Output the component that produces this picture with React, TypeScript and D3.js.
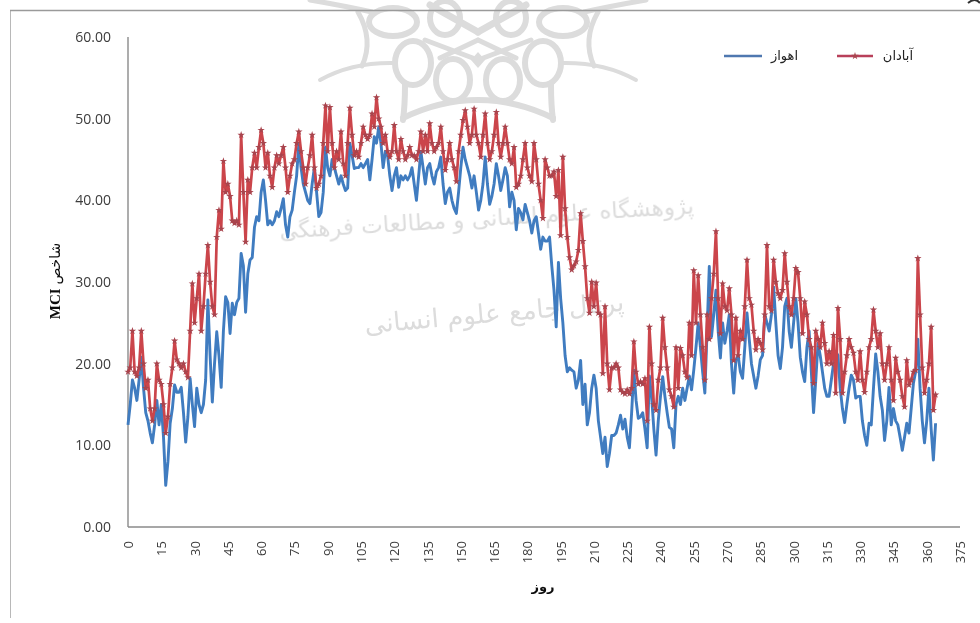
import React from 'react';
import * as d3 from 'd3';

const abadan = [
19,19.5,24,19,18.5,19.5,24,20,17,18,
14.5,13,14.5,20,18,17.5,15,11.5,13.5,17.5,
19.5,22.8,20.5,20,19.5,20,19,18.3,24,29.8,
25,28,31,24,27,31,34.5,30,27,26,
35.5,38.8,36.5,44.8,41,42,40.5,37.5,37.2,37.5,
37,48,41,34.9,42.5,41,44,45.8,44,46.5,
48.6,47,44,45.8,43,41.6,44,45.5,44.5,45.5,
46.5,44,41,43,44.5,45,47,48.4,46,44,
42,44,45.5,48,44,41.5,42,43,47,51.6,
46,51.4,47,44,46,45,48.4,44.5,43,47,
51.3,48,45.5,46,45.3,47,49,48,47.5,48,
50.6,49,52.6,50,49,47,48,46,45.3,46,
49.2,46,45,47.5,46,45,45.5,46.5,45.5,45.5,
45,46,48.4,46,48,46,49.4,47,46,46.5,
47,49,46,43.7,45,47,45,44,42.3,46,
48,49.8,51,49,47,48,51.2,48,47,45.3,
48,50.6,47,45,46,48,50.8,47,45.3,47,
49,47,45,44.5,46.5,41.6,42,43,45,47,
44,43,42.3,47,45,42,40,37.8,45,44,
43,43,43.5,40.5,43.7,35.7,45.3,39,35.5,33,
31.5,32,32.5,33.9,38.4,35,31.9,28,26.2,30,
27,29.9,26.2,26,18.8,27,20,16.8,19.5,19.5,
20,19.5,16.8,16.5,16.3,16.8,16.3,17,22.7,19,
17.5,17.8,17.5,18.2,13,24.5,20,15,14.3,18,
19.5,25.6,22,19.5,16.8,16,14.7,22,17,21.9,
21,19,18.3,25,21,31.4,25,30.8,26,22,
18,26,23,28,31,36.2,28,23.7,29.8,27,
26.5,29.2,26,20.4,25.6,21,24,23,27,32.7,
28,27.2,24,21.7,23,22.5,21.7,26,34.5,27,
26.5,32.7,30,28.6,28,29,33.5,30,27,26,
28,31.7,31.2,28,23.7,27.6,26,23,22,17.6,
24,23,22,25,22.5,20,21.5,20,23.5,16.4,
26.8,23,16.4,19,21,23,22,21.3,19,18,
21.5,18,16.5,19,22,23,26.6,24,22,23.7,
20,18,20,22,18,15.5,20.7,19,18,16,
14.7,20.4,17.4,18,19,19.2,32.9,26,19.5,16.4,
18,20,24.5,14.3,16.2,
];

const ahvaz = [
12.5,15,18,17,15.5,18,20.8,17,14,13,
11.5,10.3,12.5,15.5,12.5,15,11,5.1,8,12.7,
14.5,17.4,16.5,16.5,17.1,14,10.4,13.5,18.2,15,
12.3,17,15,14,15,18,27.8,21,15.3,20,
23.9,21,17.1,24,28.2,27.5,23.7,27.4,26,27.5,
28,33.5,32,26.3,31,32.7,33,36.7,38,37.5,
41,42.5,40,37,37.5,37,37.5,38.6,38,39,
40.2,37,35.5,38,38.8,41,43,47,44,42,
41,40,39.6,42,44,41,38,38.5,41,46.5,
44,43,45,44,43,42,43,42,41.2,41.5,
47,45.5,43.9,44,44,44.5,44,44.5,45,42.5,
45,47.8,47,49,47,44,46,45.5,43,41.2,
43,44,41.6,43,42.5,43,42.5,43,44,42,
40,43,46,44,42,44,44.5,43,42,43.5,
44,45.3,42,39.6,41,41.5,40,39,38.4,41,
44,46.5,45,44,43,41.5,43,41,38.8,40,
42,45.3,42,39.5,40.5,42,44.5,43,41.2,42.5,
44,43,39.2,41,40,36.4,39,38.5,37.6,39.5,
38.5,37.5,36,37.5,38,36,34,35.5,35,35,
35.5,32,29,24.5,32.4,28,25,21,19,19.5,
19.2,19,17,18,20.4,15,17.5,12.5,14,17,
18.6,17,13,11,9,11,7.4,9,11.2,11.2,
11.5,12.5,13.7,12,13.2,11,9.7,14,19.2,15.5,
13.3,13.5,14,12,9.7,18.5,16,12,8.8,13,
16,18.4,16,14,12.2,12,9.7,15,16,15,
17,15.5,17,18.5,16.8,19.2,22,25,22,19,
16.4,24,31.9,23.3,26,29,24,20.7,25,22.5,
24,26,20,16.4,20.5,21,19,18.2,22,26.2,
23,20,18.5,17,18.5,20.5,21,26,25,24,
26,29.4,25,21,19.4,22,27,28,24,22,
25,28,25,20.8,19,17.8,22,24,19,14,
18,22.5,21,19,17,16,16,18,20,21.5,
21,17,14.5,12.8,15,17,18.6,18,15.8,16,
16,13,11.2,10,12.7,12.5,17,21.2,19,16,
14.3,10.6,13,17.1,12.5,14.5,13,12.5,11,9.4,
11,12.7,11.5,14.5,17.6,19,23,17,13,10.3,
13,17,12,8.2,12.7,
];

const yTicks = [0, 10, 20, 30, 40, 50, 60];
const xTicks = d3.range(0, 376, 15);
const legendA = 'آبادان';
const legendB = 'اهواز';
const xTitle = 'روز';
const yTitleFa = 'شاخص';
const yTitleEn = 'MCI';
const wmLine1 = 'پژوهشگاه علوم انسانی و مطالعات فرهنگی';
const wmLine2 = 'پرتال جامع علوم انسانی';

const x = d3.scaleLinear().domain([0, 375]).range([128, 960]);
const y = d3.scaleLinear().domain([0, 60]).range([527, 37]);
const line = d3.line<number>().x((_, i) => x(i)).y(d => y(d));
const star = d3.symbol(d3.symbolStar, 17)() as string;

const RED = '#cb454b';
const REDM = '#a8444e';
const BLUE = '#3f7cc0';
const WM = '#dcdcdc';
const TXT = '#3c3c3c';

function LogoHalf() {
  return (
    <g fill="none" stroke={WM} strokeWidth={6} strokeLinecap="round">
      <ellipse cx={453} cy={80} rx={17} ry={21} />
      <ellipse cx={413} cy={63} rx={18} ry={22} />
      <ellipse cx={393} cy={22} rx={24} ry={14} />
      <ellipse cx={445} cy={18} rx={15} ry={17} />
      <path d="M320,80 Q352,62 395,63" strokeWidth={4} />
      <path d="M358,12 Q374,40 362,66" strokeWidth={5} />
      <path d="M405,85 Q405,105 403,120" />
      <path d="M403,118 Q440,100 478,100" />
      <path d="M425,40 L478,60 M440,58 L478,40" strokeWidth={5} />
      <path d="M430,5 L478,32" strokeWidth={7} />
      <path d="M310,0 Q345,6 372,12" strokeWidth={5} />
    </g>
  );
}

export default function App() {
  return (
    <svg width={980} height={623} style={{ position: 'absolute', left: 0, top: 0, background: '#fff' }}>
      <defs>
        <filter id="soft" x="0" y="0" width="100%" height="100%">
          <feGaussianBlur stdDeviation="0.55" />
        </filter>
      </defs>
      <g filter="url(#soft)">
        <LogoHalf />
        <g transform="translate(956,0) scale(-1,1)"><LogoHalf /></g>
        <path d="M478,52 L485,60 L478,68 L471,60 Z" fill={WM} />
        <path d="M968,3 Q975,-3 980,3" fill="none" stroke="#333" strokeWidth={2} />

        <text x={487} y={226} textAnchor="middle" transform="rotate(-3.5 487 226)"
          fontFamily="'DejaVu Sans'" fontSize={23} fill={WM} direction="rtl">{wmLine1}</text>
        <text x={495} y={322} textAnchor="middle" transform="rotate(-5 495 322)"
          fontFamily="'DejaVu Sans'" fontSize={26} fill={WM} direction="rtl">{wmLine2}</text>

        <path d="M980,10.5 H10 V618" fill="none" stroke="#9a9a9a" strokeWidth={1.4} />

        <line x1={x(0)} x2={x(0)} y1={y(60)} y2={y(0)} stroke="#8a8a8a" strokeWidth={1.4} />
        <line x1={x(0)} x2={x(375)} y1={y(0)} y2={y(0)} stroke="#8a8a8a" strokeWidth={1.4} />

        {yTicks.map(t => (
          <text key={t} x={111} y={y(t) + 5} textAnchor="end" fontFamily="'Open Sans'" fontSize={14} fill={TXT}>
            {t.toFixed(2)}
          </text>
        ))}
        {xTicks.map(t => (
          <text key={t} transform={`translate(${x(t) + 5},541) rotate(-90)`} textAnchor="end"
            fontFamily="'Open Sans'" fontSize={13} fill={TXT}>{t}</text>
        ))}

        <path d={line(ahvaz) as string} fill="none" stroke={BLUE} strokeWidth={2.9} strokeLinejoin="round" />
        <path d={line(abadan) as string} fill="none" stroke={RED} strokeWidth={2.7} strokeLinejoin="round" />
        {abadan.map((v, i) => (
          <path key={i} d={star} transform={`translate(${x(i)},${y(v)})`} fill={REDM} />
        ))}

        <text transform="translate(60,281) rotate(-90)" textAnchor="middle" direction="rtl"
          fontFamily="'Liberation Serif','DejaVu Sans'" fontSize={15} fill="#111">
          <tspan fontFamily="'DejaVu Sans'" fontSize={14}>{yTitleFa}</tspan>
          <tspan fontWeight="bold"> {yTitleEn}</tspan>
        </text>
        <text x={543} y={591} textAnchor="middle" fontFamily="'DejaVu Sans'" fontWeight="bold" fontSize={13} fill="#111">{xTitle}</text>

        <line x1={837} x2={873} y1={56} y2={56} stroke="#b8405a" strokeWidth={2.4} />
        <path d={star} transform="translate(855,56)" fill={REDM} />
        <text x={913} y={60} textAnchor="end" fontFamily="'DejaVu Sans'" fontSize={13} fill="#222">{legendA}</text>
        <line x1={724} x2={762} y1={56} y2={56} stroke="#5078b0" strokeWidth={2.4} />
        <text x={798} y={60} textAnchor="end" fontFamily="'DejaVu Sans'" fontSize={13} fill="#222">{legendB}</text>
      </g>
    </svg>
  );
}
